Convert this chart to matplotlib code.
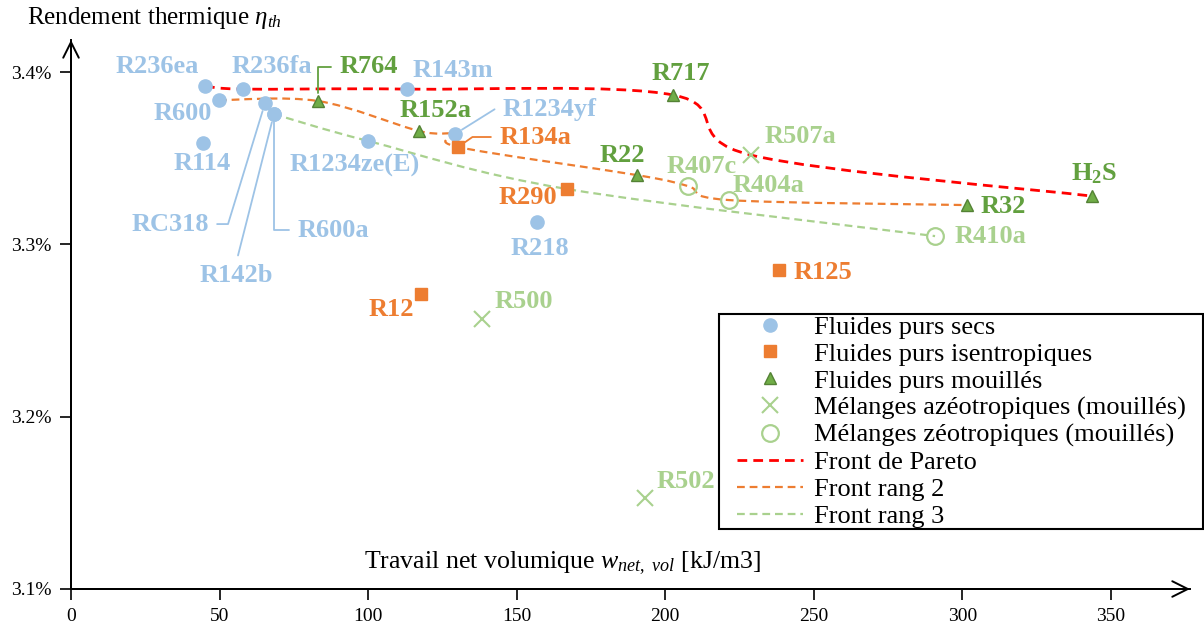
import numpy as np
import matplotlib
matplotlib.use('Agg')
import matplotlib.pyplot as plt
from matplotlib.path import Path
from matplotlib.patches import PathPatch
from matplotlib.lines import Line2D
from matplotlib.legend_handler import HandlerLine2D

plt.rcParams['font.family'] = ['Liberation Serif', 'DejaVu Serif']
plt.rcParams['mathtext.fontset'] = 'custom'
plt.rcParams['mathtext.rm'] = 'Liberation Serif'
plt.rcParams['mathtext.it'] = 'Liberation Serif:italic'
plt.rcParams['mathtext.bf'] = 'Liberation Serif:bold'

# fluides purs secs
sec_noms = ['R236ea', 'R600', 'R236fa', 'RC318', 'R600a', 'R142b', 'R114',
            'R1234ze(E)', 'R143m', 'R1234yf', 'R218']
sec_w = [45.1, 49.8, 57.9, 65.3, 68.3, 68.3, 44.4, 100.0, 113.1, 129.2, 156.8]
sec_eta = [3.3919, 3.3837, 3.3901, 3.3820, 3.3756, 3.3756, 3.3588, 3.3600,
           3.3901, 3.3640, 3.3129]

# fluides purs isentropiques
isen_noms = ['R134a', 'R290', 'R12', 'R125']
isen_w = [130.3, 167.0, 117.8, 238.3]
isen_eta = [3.3565, 3.3321, 3.2712, 3.2851]

# fluides purs mouillés
mou_noms = ['R764', 'R152a', 'R717', 'R22', 'R32', r'$\mathbf{H_2S}$']
mou_w = [83.1, 117.1, 202.6, 190.5, 301.6, 343.7]
mou_eta = [3.3832, 3.3658, 3.3867, 3.3402, 3.3228, 3.3280]

# mélanges azéotropiques
aze_noms = ['R507a', 'R500', 'R502']
aze_w = [228.9, 138.3, 193.2]
aze_eta = [3.3518, 3.2567, 3.1528]

# mélanges zéotropiques
zeo_noms = ['R407c', 'R404a', 'R410a']
zeo_w = [207.7, 221.5, 290.8]
zeo_eta = [3.3338, 3.3257, 3.3048]

# fronts
pareto_w = [45.1, 57.9, 113.1, 202.6, 228.9, 343.7]
pareto_eta = [3.3919, 3.3901, 3.3901, 3.3867, 3.3518, 3.3280]
rang2_w = [49.8, 83.1, 117.1, 129.2, 130.3, 190.5, 207.7, 221.5, 301.6]
rang2_eta = [3.3837, 3.3832, 3.3658, 3.3640, 3.3565, 3.3402, 3.3338, 3.3257, 3.3228]
rang3_w = [68.3, 100.0, 167.0, 290.8]
rang3_eta = [3.3756, 3.3600, 3.3321, 3.3048]

bleu = '#9DC3E6'
orange = '#ED7D31'
vert = '#70AD47'
vert_fonce = '#548235'
vert_txt = '#62A03F'
vert_clair = '#A9D18E'


def courbe_lissee(xs, ys):
    # courbe lissée type Excel (Bezier, tension 1/6)
    p = np.column_stack([xs, ys])
    n = len(p)
    verts = [p[0]]
    codes = [Path.MOVETO]
    for i in range(n - 1):
        p0 = p[max(i - 1, 0)]
        p3 = p[min(i + 2, n - 1)]
        c1 = p[i] + (p[i + 1] - p0) / 6.0
        c2 = p[i + 1] - (p3 - p[i]) / 6.0
        verts += [c1, c2, p[i + 1]]
        codes += [Path.CURVE4] * 3
    return Path(verts, codes)


fig = plt.figure(figsize=(12.04, 6.28), dpi=100)
ax = fig.add_axes([71/1204, 39/628, 1119/1204, 549/628])

ax.set_xlim(0, 376.6)
ax.set_ylim(3.1, 3.4186)

for xs, ys, c, lw in [(pareto_w, pareto_eta, '#FF0000', 2.0),
                      (rang2_w, rang2_eta, orange, 1.6),
                      (rang3_w, rang3_eta, vert_clair, 1.6)]:
    pp = PathPatch(courbe_lissee(xs, ys), fill=False, edgecolor=c, lw=lw,
                   linestyle=(0, (3.5, 2.2)), zorder=2)
    ax.add_patch(pp)

h1, = ax.plot(sec_w, sec_eta, 'o', color=bleu, ms=9.5, mec=bleu, ls='none', zorder=3,
              label='Fluides purs secs')
h2, = ax.plot(isen_w, isen_eta, 's', color=orange, ms=8.5, mec=orange, ls='none', zorder=3,
              label='Fluides purs isentropiques')
h3, = ax.plot(mou_w, mou_eta, '^', color=vert, ms=9, mec=vert_fonce, mew=1, ls='none', zorder=3,
              label='Fluides purs mouillés')
h4, = ax.plot(aze_w, aze_eta, 'x', color=vert_clair, ms=12, mew=1.5, ls='none', zorder=3,
              label='Mélanges azéotropiques (mouillés)')
h5, = ax.plot(zeo_w, zeo_eta, 'o', mfc='none', mec=vert_clair, ms=12, mew=1.6, ls='none', zorder=3,
              label='Mélanges zéotropiques (mouillés)')
h6 = Line2D([], [], color='#FF0000', lw=2.0, linestyle=(0, (3.5, 2.2)), label='Front de Pareto')
h7 = Line2D([], [], color=orange, lw=1.6, linestyle=(0, (3.5, 2.2)), label='Front rang 2')
h8 = Line2D([], [], color=vert_clair, lw=1.6, linestyle=(0, (3.5, 2.2)), label='Front rang 3')

# etiquettes (decalage en pixels depuis le point)
sec_dec = [(-48, 20), (-36, -13), (29, 23), (-95, -121), (59, -116), (-38, -161),
           (-1, -20), (-13, -24), (46, 19), (95, 25), (3, -26)]
isen_dec = [(77, 10), (-39, -8), (-30, -16), (44, -2)]
mou_dec = [(51, 34), (17, 20), (8, 21), (-15, 20), (36, -1), (2, 22)]
aze_dec = [(49, 19), (42, 17), (41, 17)]
zeo_dec = [(13, 20), (39, 15), (55, 0)]

# lignes de rappel
rappel = {
    'RC318': dict(relpos=(1, 0.5), connectionstyle='angle,angleA=0,angleB=73,rad=0'),
    'R142b': dict(relpos=(0.5, 1), connectionstyle='arc3'),
    'R600a': dict(relpos=(0, 0.5), connectionstyle='angle,angleA=0,angleB=90,rad=0'),
    'R764': dict(relpos=(0, 0.5), connectionstyle='angle,angleA=0,angleB=90,rad=0'),
    'R1234yf': dict(relpos=(0, 0.5), connectionstyle='angle,angleA=0,angleB=32,rad=0'),
    'R134a': dict(relpos=(0, 0.5), connectionstyle='angle,angleA=0,angleB=35,rad=0'),
}

groupes = [(sec_noms, sec_w, sec_eta, sec_dec, bleu),
           (isen_noms, isen_w, isen_eta, isen_dec, orange),
           (mou_noms, mou_w, mou_eta, mou_dec, vert_txt),
           (aze_noms, aze_w, aze_eta, aze_dec, vert_clair),
           (zeo_noms, zeo_w, zeo_eta, zeo_dec, vert_clair)]
for noms, ws, etas, decs, c in groupes:
    for nom, w, e, d in zip(noms, ws, etas, decs):
        ap = None
        if nom in rappel:
            ap = dict(arrowstyle='-', color=c, lw=1.3, shrinkA=4, shrinkB=6, **rappel[nom])
        ax.annotate(nom, xy=(w, e), xytext=d, textcoords='offset pixels',
                    ha='center', va='center', fontsize=19, fontweight='bold', color=c,
                    arrowprops=ap, zorder=4, annotation_clip=False)

# axes avec fleches
for s in ['top', 'right']:
    ax.spines[s].set_visible(False)
ax.spines['left'].set_linewidth(1.4)
ax.spines['bottom'].set_linewidth(1.4)
ax.annotate('', xy=(1, 0), xytext=(0, 0), xycoords='axes fraction',
            arrowprops=dict(arrowstyle='->', lw=1.4, mutation_scale=28, shrinkA=0, shrinkB=0),
            annotation_clip=False)
ax.annotate('', xy=(0, 1), xytext=(0, 0), xycoords='axes fraction',
            arrowprops=dict(arrowstyle='->', lw=1.4, mutation_scale=28, shrinkA=0, shrinkB=0),
            annotation_clip=False)

ax.set_xticks(np.arange(0, 351, 50))
ax.set_yticks([3.1, 3.2, 3.3, 3.4])
ax.set_yticklabels(['3.1%', '3.2%', '3.3%', '3.4%'])
ax.tick_params(direction='out', length=8, width=1.2, labelsize=14, pad=6)

fig.text(27/1204, 1 - 18/628, r'Rendement thermique $\eta_{th}$', fontsize=18,
         ha='left', va='center')
fig.text(562/1204, 1 - 563/628, r'Travail net volumique $w_{net,\ vol}$ [kJ/m3]',
         fontsize=18.6, ha='center', va='center')

leg = ax.legend(handles=[h1, h2, h3, h4, h5, h6, h7, h8], loc='upper left',
                bbox_to_anchor=(719/1204, 1 - 527/628, 484/1204, 213/628),
                bbox_transform=fig.transFigure, mode='expand', borderaxespad=0,
                fontsize=19, labelspacing=0.13, handlelength=3.14, handletextpad=0.4,
                borderpad=0.05, fancybox=False, framealpha=1, edgecolor='black',
                numpoints=1, handler_map={Line2D: HandlerLine2D(xpad=0.65)})
leg.get_frame().set_linewidth(1.5)

fig.savefig('out.png', dpi=100)
